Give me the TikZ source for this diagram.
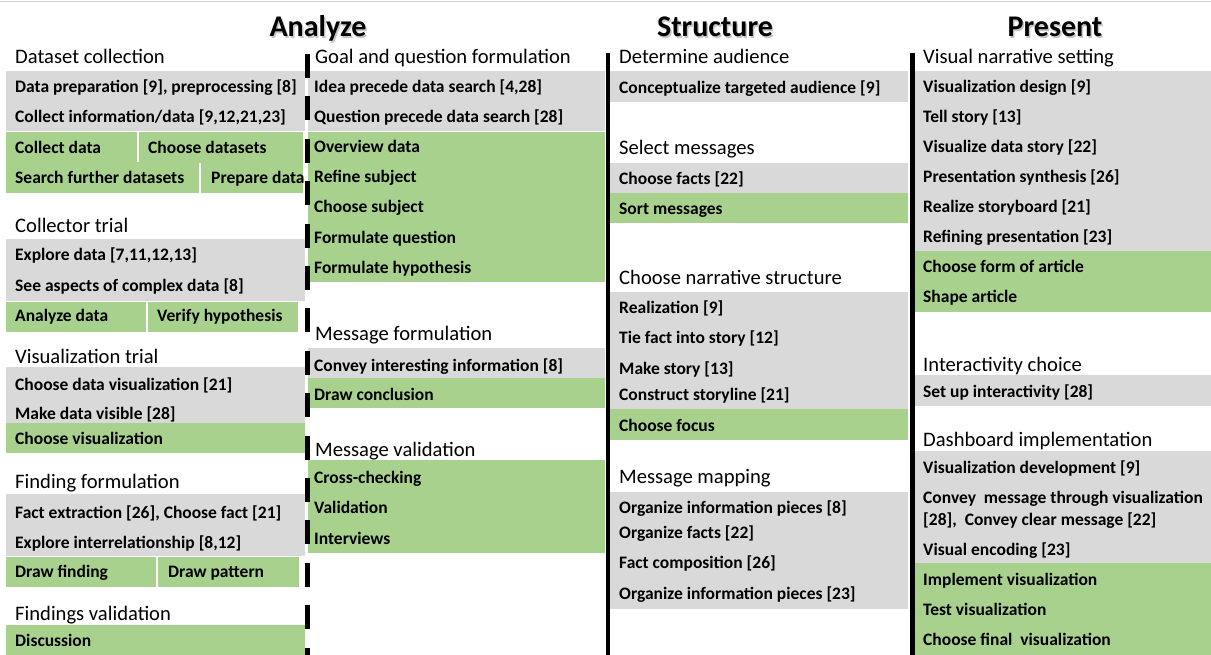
\documentclass[tikz,border=0pt]{standalone}
\usepackage{fontspec}
\setmainfont{Carlito}
\definecolor{bandgray}{HTML}{D9D9D9}
\definecolor{bandgreen}{HTML}{A9D18E}
\definecolor{ruleline}{HTML}{D0D0D0}
\tikzset{
  graybox/.style={fill=bandgray},
  greenbox/.style={fill=bandgreen},
  itm/.style={anchor=base west, inner sep=0pt, font=\fontsize{17.5}{20}\selectfont\bfseries},
  sechead/.style={anchor=base west, inner sep=0pt, font=\fontsize{20.6}{24}\selectfont},
  phasetitle/.style={anchor=base, inner sep=0pt, font=\fontsize{30}{36}\selectfont\bfseries},
  titleshade/.style={phasetitle, text=black!50, opacity=0.45},
  splitline/.style={draw=white, line width=1.5pt},
  phaseline/.style={line width=4.5pt},
  phasedash/.style={line width=5pt, dash pattern=on 24pt off 18.4pt},
}
\begin{document}
\begin{tikzpicture}[x=1pt,y=-1pt]
\useasboundingbox (0,0) rectangle (1211,655);
\draw[ruleline, line width=1pt] (0,2) -- (1211,2);

% ---------- phase titles ----------
\foreach \nm/\tx/\xx in {Analyze/Analyze/318, Structure/Structure/715, Present/Present/1055}{
  \node[titleshade] (\nm-shade) at (\xx+1.5,38.5) {\tx};
  \node[phasetitle] (\nm) at (\xx,37) {\tx};
}

% ---------- column 1 : Analyze (left) ----------
\fill[graybox] (6,71) rectangle (305,131);
\fill[greenbox] (6,132) rectangle (303,193);
\draw[splitline] (138,132) -- (138,162);
\draw[splitline] (200,163) -- (200,193);
\fill[graybox] (6,239) rectangle (305,301);
\fill[greenbox] (6,302) rectangle (298,332);
\draw[splitline] (147,302) -- (147,332);
\fill[graybox] (6,367) rectangle (305,423);
\fill[greenbox] (6,423) rectangle (305,453);
\fill[graybox] (6,494) rectangle (305,556);
\fill[greenbox] (6,557) rectangle (299,587);
\draw[splitline] (157,557) -- (157,587);
\fill[greenbox] (6,625) rectangle (305,655);

\node[sechead] (dc)   at (15,64)  {Dataset collection};
\node[itm] (dc1) at (15,93)  {Data preparation [9], preprocessing [8]};
\node[itm] (dc2) at (15,123) {Collect information/data [9,12,21,23]};
\node[itm] (dc3) at (15,154) {Collect data};
\node[itm] (dc4) at (148,154) {Choose datasets};
\node[itm] (dc5) at (15,184) {Search further datasets};
\node[itm] (dc6) at (211,184) {Prepare data};

\node[sechead] (ct)   at (15,233) {Collector trial};
\node[itm] (ct1) at (15,261) {Explore data [7,11,12,13]};
\node[itm] (ct2) at (15,291) {See aspects of complex data [8]};
\node[itm] (ct3) at (15,321) {Analyze data};
\node[itm] (ct4) at (157,321) {Verify hypothesis};

\node[sechead] (vt)   at (15,363) {Visualization trial};
\node[itm] (vt1) at (15,390) {Choose data visualization [21]};
\node[itm] (vt2) at (15,419) {Make data visible [28]};
\node[itm] (vt3) at (15,444) {Choose visualization};

\node[sechead] (ff)   at (15,488) {Finding formulation};
\node[itm] (ff1) at (15,518) {Fact extraction [26], Choose fact [21]};
\node[itm] (ff2) at (15,548) {Explore interrelationship [8,12]};
\node[itm] (ff3) at (15,577) {Draw finding};
\node[itm] (ff4) at (168,577) {Draw pattern};

\node[sechead] (fv)   at (15,620) {Findings validation};
\node[itm] (fv1) at (15,646) {Discussion};

% ---------- column 2 : Analyze (right) ----------
\fill[graybox] (308,71) rectangle (605,131);
\fill[greenbox] (308,132) rectangle (605,282);
\fill[graybox] (308,348) rectangle (605,378);
\fill[greenbox] (308,378) rectangle (605,408);
\fill[greenbox] (308,460) rectangle (605,553);

\node[sechead] (gq)   at (315,64)  {Goal and question formulation};
\node[itm] (gq1) at (314,93)  {Idea precede data search [4,28]};
\node[itm] (gq2) at (314,123) {Question precede data search [28]};
\node[itm] (gq3) at (314,153) {Overview data};
\node[itm] (gq4) at (314,183) {Refine subject};
\node[itm] (gq5) at (314,213) {Choose subject};
\node[itm] (gq6) at (314,244) {Formulate question};
\node[itm] (gq7) at (314,274) {Formulate hypothesis};

\node[sechead] (mf)   at (315,341) {Message formulation};
\node[itm] (mf1) at (314,371) {Convey interesting information [8]};
\node[itm] (mf2) at (314,400) {Draw conclusion};

\node[sechead] (mv)   at (315,456) {Message validation};
\node[itm] (mv1) at (314,483) {Cross-checking};
\node[itm] (mv2) at (314,513) {Validation};
\node[itm] (mv3) at (314,544) {Interviews};

% ---------- column 3 : Structure ----------
\fill[graybox] (610,71) rectangle (908,102);
\fill[graybox] (610,163) rectangle (908,193);
\fill[greenbox] (610,193) rectangle (908,223);
\fill[graybox] (610,292) rectangle (908,409);
\fill[greenbox] (610,409) rectangle (908,440);
\fill[graybox] (610,492) rectangle (908,609);

\node[sechead] (da)   at (619,64)  {Determine audience};
\node[itm] (da1) at (619,94)  {Conceptualize targeted audience [9]};

\node[sechead] (sm)   at (619,155) {Select messages};
\node[itm] (sm1) at (619,185) {Choose facts [22]};
\node[itm] (sm2) at (619,215) {Sort messages};

\node[sechead] (ns)   at (619,285) {Choose narrative structure};
\node[itm] (ns1) at (619,313) {Realization [9]};
\node[itm] (ns2) at (619,344) {Tie fact into story [12]};
\node[itm] (ns3) at (619,374) {Make story [13]};
\node[itm] (ns4) at (619,400) {Construct storyline [21]};
\node[itm] (ns5) at (619,431) {Choose focus};

\node[sechead] (mm)   at (619,483) {Message mapping};
\node[itm] (mm1) at (619,513) {Organize information pieces [8]};
\node[itm] (mm2) at (619,538) {Organize facts [22]};
\node[itm] (mm3) at (619,568) {Fact composition [26]};
\node[itm] (mm4) at (619,599) {Organize information pieces [23]};

% ---------- column 4 : Present ----------
\fill[graybox] (915,71) rectangle (1211,251);
\fill[greenbox] (915,251) rectangle (1211,312);
\fill[graybox] (915,375) rectangle (1211,406);
\fill[graybox] (915,451) rectangle (1211,563);
\fill[greenbox] (915,563) rectangle (1211,655);

\node[sechead] (vn)   at (923,64)  {Visual narrative setting};
\node[itm] (vn1) at (923,93)  {Visualization design [9]};
\node[itm] (vn2) at (923,123) {Tell story [13]};
\node[itm] (vn3) at (923,153) {Visualize data story [22]};
\node[itm] (vn4) at (923,183) {Presentation synthesis [26]};
\node[itm] (vn5) at (923,213) {Realize storyboard [21]};
\node[itm] (vn6) at (923,243) {Refining presentation [23]};
\node[itm] (vn7) at (923,273) {Choose form of article};
\node[itm] (vn8) at (923,303) {Shape article};

\node[sechead] (ic)   at (923,371) {Interactivity choice};
\node[itm] (ic1) at (923,397) {Set up interactivity [28]};

\node[sechead] (di)   at (923,446) {Dashboard implementation};
\node[itm] (di1) at (923,473) {Visualization development [9]};
\node[itm] (di2) at (923,503) {Convey\ \ message through visualization};
\node[itm] (di3) at (923,525) {[28],\ \ Convey clear message [22]};
\node[itm] (di4) at (923,555) {Visual encoding [23]};
\node[itm] (di5) at (923,585) {Implement visualization};
\node[itm] (di6) at (923,615) {Test visualization};
\node[itm] (di7) at (923,645) {Choose final\ \ visualization};

% ---------- phase borders ----------
\draw[phasedash] (307,54) -- (307,655);
\draw[phaseline] (608,53) -- (608,655);
\draw[phaseline] (912.5,53) -- (912.5,655);
\end{tikzpicture}
\end{document}
